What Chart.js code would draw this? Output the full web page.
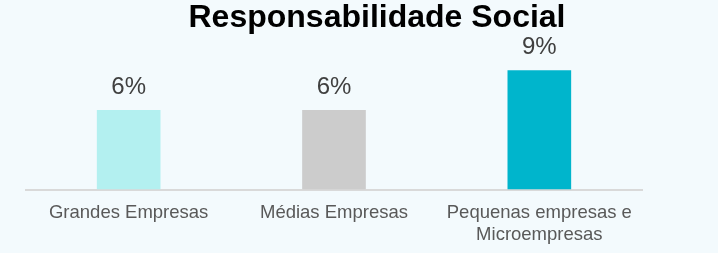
<!DOCTYPE html>
<html>
<head>
<meta charset="utf-8">
<script src="https://cdn.jsdelivr.net/npm/chart.js@4"></script>
<style>
  html, body { margin: 0; padding: 0; background: #f3fafd; }
  #wrap { width: 718px; height: 253px; }
</style>
</head>
<body>
<div id="wrap"><canvas id="myChart"></canvas></div>
<script>
// chart data
var titulo = "Responsabilidade Social";
var categorias = ["Grandes Empresas", "Médias Empresas", ["Pequenas empresas e", "Microempresas"]];
var valores = [6, 6, 9];
var cores = ["#b3f0f0", "#cccccc", "#00b5cc"];

// title + value labels drawn on top of the bars
var rotulos = {
  id: "rotulos",
  afterDatasetsDraw: function(chart) {
    var ctx = chart.ctx;
    ctx.save();
    ctx.fillStyle = "#404040";
    ctx.font = "24px 'Liberation Sans', Arial, sans-serif";
    ctx.textAlign = "center";
    ctx.textBaseline = "alphabetic";
    chart.getDatasetMeta(0).data.forEach(function(bar, i) {
      ctx.fillText(valores[i] + "%", bar.x, bar.y - 16);
    });
    ctx.fillStyle = "#000000";
    ctx.font = "bold 32px 'Liberation Sans', Arial, sans-serif";
    ctx.fillText(titulo, 377, 27);
    ctx.restore();
  }
};

var ctx = document.getElementById("myChart");
var myChart = new Chart(ctx, {
  type: "bar",
  data: {
    labels: categorias,
    datasets: [{
      data: valores,
      backgroundColor: cores,
      categoryPercentage: 1,
      barPercentage: 0.31
    }]
  },
  options: {
    responsive: true,
    maintainAspectRatio: false,
    animation: false,
    layout: { padding: { left: 26, right: 76, top: 57, bottom: 3 } },
    plugins: {
      legend: { display: false },
      tooltip: { enabled: false }
    },
    scales: {
      x: {
        grid: { display: false },
        border: { color: "#d9d9d9", width: 2 },
        ticks: {
          color: "#595959",
          font: { family: "'Liberation Sans', Arial, sans-serif", size: 18.5 },
          padding: 4,
          maxRotation: 0,
          autoSkip: false
        }
      },
      y: {
        display: false,
        min: 0,
        max: 10
      }
    }
  },
  plugins: [rotulos]
});
</script>
</body>
</html>
